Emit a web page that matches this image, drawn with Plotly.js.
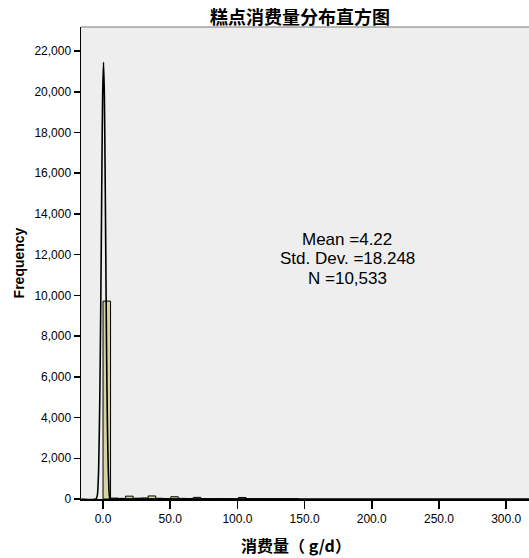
<!DOCTYPE html>
<html>
<head>
<meta charset="utf-8">
<script src="https://cdn.plot.ly/plotly-3.0.1.min.js"></script>
<style>html,body{margin:0;padding:0;background:#fff;}#chart{width:529px;height:558px;}</style>
</head>
<body>
<div id="chart"></div>
<script>
// Histogram bins (bin width ~5.6 g/d), left edges and counts
const binWidth = 5.6;
const binStarts = [0, 5.6, 11.2, 16.8, 22.4, 28.0, 33.6, 39.2, 44.8, 50.4, 56.0, 61.6, 67.2, 72.8, 78.4, 84.0, 89.6, 95.2, 100.8, 106.4, 112.0, 117.6, 123.2, 128.8, 134.4, 140.0];
const binCounts = [9720, 45, 30, 140, 40, 50, 150, 35, 25, 110, 30, 25, 80, 15, 10, 12, 8, 6, 75, 6, 5, 4, 3, 3, 2, 2];

// Fitted curve as drawn (x in g/d, frequency)
const curveX = [-16, -5.2, -4.2, -3.3, -2.4, -1.8, -1.3, -0.8, -0.3, 0.35, 1.0, 1.5, 2.0, 2.6, 3.3, 4.2, 5.2, 8, 317];
const curveY = [0, 0, 200, 1400, 5000, 8800, 12500, 16500, 19800, 21450, 19800, 16500, 12500, 7500, 3500, 900, 0, 0, 0];

const yTicks = [0, 2000, 4000, 6000, 8000, 10000, 12000, 14000, 16000, 18000, 20000, 22000];
const yTickText = ["0", "2,000", "4,000", "6,000", "8,000", "10,000", "12,000", "14,000", "16,000", "18,000", "20,000", "22,000"];
const xTicks = [0, 50, 100, 150, 200, 250, 300];
const xTickText = ["0.0", "50.0", "100.0", "150.0", "200.0", "250.0", "300.0"];

const titleText = '糕点消费量分布直方图';
const xTitleText = '消费量（ g/d）';
const yTitleText = 'Frequency';
const statsLines = ["Mean =4.22", "Std. Dev. =18.248", "N =10,533"];

const barCenters = binStarts.map(s => s + binWidth / 2);

const traces = [
  {
    type: 'bar',
    x: barCenters,
    y: binCounts,
    width: binStarts.map(() => binWidth),
    marker: {color: '#d9d3a3', line: {color: '#000000', width: 1}},
    hoverinfo: 'none'
  },
  {
    type: 'scatter',
    mode: 'lines',
    x: curveX,
    y: curveY,
    line: {color: '#000000', width: 1.6, shape: 'spline', smoothing: 0.6},
    hoverinfo: 'none'
  }
];

const cjk = '"Noto Sans CJK SC", sans-serif';
const arial = 'Arial, "Liberation Sans", sans-serif';

const annotations = statsLines.map((t, i) => ({
  text: t,
  xref: 'paper', yref: 'paper',
  x: (347 - 81) / 448, y: (499 - (239 + i * 19.5)) / 472,
  xanchor: 'center', yanchor: 'middle',
  showarrow: false, borderpad: 0,
  font: {family: arial, size: 17, color: '#000'}
}));
annotations.push({
  text: '<b>' + titleText + '</b>',
  xref: 'paper', yref: 'paper',
  x: (300 - 81) / 448, y: 1 + (27 - 16) / 472,
  xanchor: 'center', yanchor: 'middle', showarrow: false,
  font: {family: cjk, size: 18, color: '#000'}
});
annotations.push({
  text: '<b>' + xTitleText + '</b>',
  xref: 'paper', yref: 'paper',
  x: (296 - 81) / 448, y: -(545 - 499) / 472,
  xanchor: 'center', yanchor: 'middle', showarrow: false,
  font: {family: cjk, size: 16, color: '#000'}
});

const layout = {
  width: 529,
  height: 558,
  margin: {l: 81, r: 0, t: 27, b: 59},
  paper_bgcolor: '#ffffff',
  plot_bgcolor: '#eeeeee',
  showlegend: false,
  bargap: 0,
  xaxis: {
    range: [-16.4, 317],
    tickvals: xTicks,
    ticktext: xTickText,
    ticks: 'outside',
    ticklen: 8,
    tickwidth: 1.5,
    tickcolor: '#000',
    showgrid: false,
    zeroline: false,
    showline: true,
    linecolor: '#000',
    linewidth: 2,
    tickfont: {family: arial, size: 12, color: '#000'}
  },
  yaxis: {
    range: [0, 23180],
    tickvals: yTicks,
    ticktext: yTickText,
    ticks: 'outside',
    ticklen: 6,
    tickwidth: 1.5,
    tickcolor: '#000',
    showgrid: false,
    zeroline: false,
    showline: true,
    linecolor: '#000',
    linewidth: 1.5,
    tickfont: {family: arial, size: 12, color: '#000'},
    title: {
      text: '<b>' + yTitleText + '</b>',
      font: {family: arial, size: 14, color: '#000'},
      standoff: 6
    }
  },
  shapes: [
    {type: 'line', xref: 'paper', yref: 'paper', x0: 0, x1: 1, y0: 1, y1: 1, line: {color: '#777777', width: 1.2}}
  ],
  annotations: annotations
};

Plotly.newPlot('chart', traces, layout, {displayModeBar: false, staticPlot: true});
</script>
</body>
</html>
